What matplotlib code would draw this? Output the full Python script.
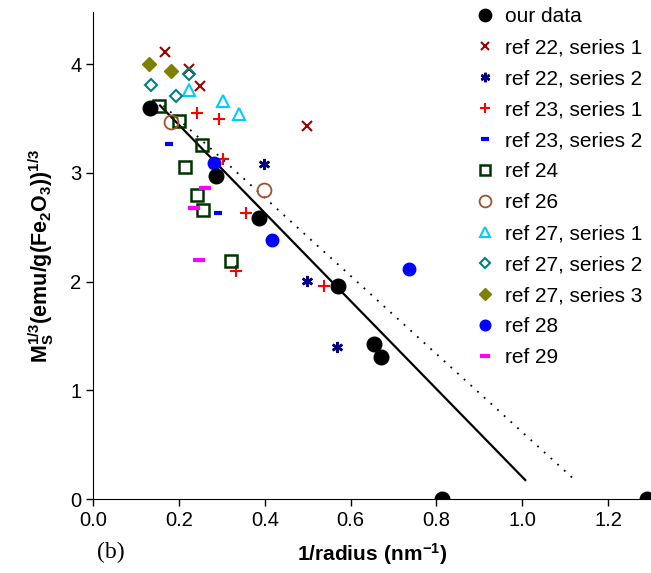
import matplotlib
matplotlib.use("Agg")
import matplotlib.pyplot as plt

plt.rcParams["font.family"] = ["Liberation Sans", "DejaVu Sans"]
plt.rcParams["mathtext.fontset"] = "custom"
plt.rcParams["mathtext.rm"] = "Liberation Sans"
plt.rcParams["mathtext.bf"] = "Liberation Sans:bold"

# data: x = 1/radius (nm^-1), y = Ms^(1/3)
our_x = [0.133, 0.286, 0.386, 0.570, 0.654, 0.671, 0.812, 1.29]
our_y = [3.60, 2.97, 2.585, 1.96, 1.43, 1.31, 0.0, 0.0]

r22s1_x = [0.167, 0.223, 0.250, 0.498]
r22s1_y = [4.11, 3.96, 3.80, 3.43]

r22s2_x = [0.399, 0.498, 0.569]
r22s2_y = [3.08, 2.01, 1.40]

r23s1_x = [0.241, 0.294, 0.303, 0.357, 0.333, 0.539]
r23s1_y = [3.55, 3.50, 3.13, 2.63, 2.10, 1.96]

r23s2_x = [0.178, 0.291]
r23s2_y = [3.27, 2.63]

r24_x = [0.153, 0.201, 0.253, 0.213, 0.243, 0.257, 0.322]
r24_y = [3.62, 3.48, 3.26, 3.05, 2.80, 2.66, 2.19]

r26_x = [0.181, 0.398]
r26_y = [3.47, 2.84]

r27s1_x = [0.223, 0.303, 0.339]
r27s1_y = [3.76, 3.66, 3.54]

r27s2_x = [0.134, 0.193, 0.223]
r27s2_y = [3.81, 3.71, 3.91]

r27s3_x = [0.131, 0.182]
r27s3_y = [4.00, 3.94]

r28_x = [0.281, 0.416, 0.737]
r28_y = [3.09, 2.38, 2.12]

r29_x = [0.260, 0.236, 0.247]
r29_y = [2.86, 2.68, 2.20]

# fit lines (end points)
fit_x = [0.156, 1.007]
fit_y = [3.62, 0.175]
fit2_x = [0.164, 1.128]
fit2_y = [3.62, 0.156]

fig = plt.figure(figsize=(6.51, 5.73), dpi=100)
ax = fig.add_axes([0.143, 0.129, 0.857, 0.85])

ax.plot(fit_x, fit_y, color="black", lw=1.6, zorder=2)
ax.plot(fit2_x, fit2_y, color="black", lw=1.3, ls=(0, (1, 4)), zorder=2)

ax.plot(our_x, our_y, "o", color="black", ms=10.5, ls="none", label="our data", zorder=5)
ax.plot(r22s1_x, r22s1_y, "x", color="#990000", ms=7, mew=1.5, ls="none", label="ref 22, series 1")
ax.plot(r22s2_x, r22s2_y, marker=(6, 2, 0), color="#000080", ms=8, mew=1.8, ls="none", label="ref 22, series 2")
ax.plot(r23s1_x, r23s1_y, "+", color="#FF0000", ms=8, mew=1.5, ls="none", label="ref 23, series 1")
ax.plot(r23s2_x, r23s2_y, "_", color="#0000FF", ms=6, mew=3, ls="none", label="ref 23, series 2")
ax.plot(r24_x, r24_y, "s", mfc="none", mec="#003300", ms=8, mew=1.8, ls="none", label="ref 24")
ax.plot(r26_x, r26_y, "o", mfc="none", mec="#A0522D", ms=10, mew=1.3, ls="none", label="ref 26")
ax.plot(r27s1_x, r27s1_y, "^", mfc="none", mec="#00CCFF", ms=9, mew=1.5, ls="none", label="ref 27, series 1")
ax.plot(r27s2_x, r27s2_y, "D", mfc="none", mec="#008080", ms=6, mew=1.5, ls="none", label="ref 27, series 2")
ax.plot(r27s3_x, r27s3_y, "D", color="#808000", ms=7, ls="none", label="ref 27, series 3")
ax.plot(r28_x, r28_y, "o", color="#0000FF", ms=9, ls="none", label="ref 28")
ax.plot(r29_x, r29_y, "_", color="#FF00FF", ms=9, mew=3, ls="none", label="ref 29")

ax.set_xlim(0, 1.3)
ax.set_ylim(0, 4.48)
ax.set_xticks([0.0, 0.2, 0.4, 0.6, 0.8, 1.0, 1.2])
ax.set_xticklabels(["0.0", "0.2", "0.4", "0.6", "0.8", "1.0", "1.2"])
ax.set_yticks([0, 1, 2, 3, 4])
ax.spines["top"].set_visible(False)
ax.spines["right"].set_visible(False)
ax.tick_params(direction="out", length=5, width=1, labelsize=14.5)

ax.set_xlabel(r"$\mathbf{1/radius\ (nm^{-1})}$", fontsize=15, labelpad=8)
ax.set_ylabel(r"$\mathbf{M_S^{1/3}(emu/g(Fe_2O_3))^{1/3}}$", fontsize=15.5, labelpad=10)

fig.text(0.149, 0.026, "(b)", family="Liberation Serif", fontsize=17)

ax.legend(loc="upper left", bbox_to_anchor=(0.668, 1.027), frameon=False, fontsize=15,
          handlelength=1.0, handletextpad=0.5, labelspacing=0.575, markerscale=0.85,
          borderaxespad=0)

fig.savefig("out.png", dpi=100)
